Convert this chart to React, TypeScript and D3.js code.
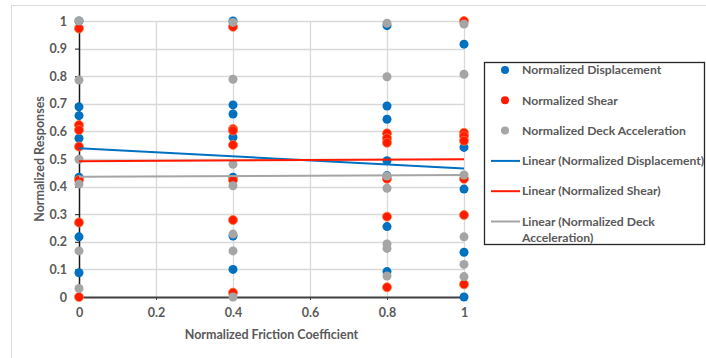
import { useEffect, useRef } from "react";
import * as d3 from "d3";

// friction levels (x) and the responses read at each of them
const frictionLevels = [0, 0.4, 0.8, 1];

const displacement = [
  [1.0, 0.689, 0.657, 0.575, 0.434, 0.218, 0.088],
  [1.0, 0.696, 0.663, 0.579, 0.434, 0.221, 0.1],
  [0.983, 0.692, 0.644, 0.494, 0.44, 0.255, 0.092],
  [0.916, 0.542, 0.391, 0.162, 0.0],
];

const shear = [
  [0.973, 0.623, 0.605, 0.545, 0.424, 0.27, 0.0],
  [0.979, 0.609, 0.603, 0.551, 0.424, 0.279, 0.016],
  [0.593, 0.575, 0.559, 0.428, 0.291, 0.035],
  [1.0, 0.595, 0.583, 0.566, 0.428, 0.297, 0.046],
];

const deckAcceleration = [
  [1.0, 0.786, 0.499, 0.409, 0.167, 0.031],
  [0.995, 0.789, 0.481, 0.403, 0.228, 0.167, 0.0],
  [0.992, 0.798, 0.438, 0.394, 0.192, 0.176, 0.076],
  [0.989, 0.807, 0.442, 0.218, 0.118, 0.074],
];

// linear trend values at x = 0 and x = 1
const trendX = [0, 1];
const trendDisplacement = [0.539, 0.466];
const trendShear = [0.492, 0.499];
const trendDeck = [0.436, 0.442];

const xTicks = [0, 0.2, 0.4, 0.6, 0.8, 1];
const yTicks = [0, 0.1, 0.2, 0.3, 0.4, 0.5, 0.6, 0.7, 0.8, 0.9, 1];

const seriesNames = [
  "Normalized Displacement",
  "Normalized Shear",
  "Normalized Deck Acceleration",
];
const trendNames = [
  ["Linear (Normalized Displacement)"],
  ["Linear (Normalized Shear)"],
  ["Linear (Normalized Deck", "Acceleration)"],
];

const colors = ["#0070C0", "#FF1A00", "#A5A5A5"];

const App = () => {
  const ref = useRef<SVGSVGElement>(null);

  const width = 706;
  const height = 358;
  const plot = { left: 79, right: 464, top: 21, bottom: 297 };
  const font = "Lato, 'Open Sans', sans-serif";
  const textColor = "#595959";
  const fontSize = 12.2;

  useEffect(() => {
    const svg = d3.select(ref.current);
    svg.selectAll("*").remove();

    const x = d3.scaleLinear().domain([0, 1]).range([plot.left, plot.right]);
    const y = d3.scaleLinear().domain([0, 1]).range([plot.bottom, plot.top]);

    svg
      .append("rect")
      .attr("width", width)
      .attr("height", height)
      .attr("fill", "#fff");

    // outer chart frame
    svg
      .append("rect")
      .attr("x", 11.5)
      .attr("y", 5.5)
      .attr("width", 800)
      .attr("height", 400)
      .attr("fill", "none")
      .attr("stroke", "#d9d9d9");

    // grid
    const grid = svg.append("g").attr("stroke", "#d9d9d9").attr("stroke-width", 1.3);
    grid
      .selectAll("line.h")
      .data(yTicks.filter((t) => t > 0))
      .enter()
      .append("line")
      .attr("x1", plot.left)
      .attr("x2", plot.right)
      .attr("y1", (d) => Math.round(y(d)) + 0.5)
      .attr("y2", (d) => Math.round(y(d)) + 0.5);
    grid
      .selectAll("line.v")
      .data(xTicks.filter((t) => t > 0))
      .enter()
      .append("line")
      .attr("x1", (d) => Math.round(x(d)) + 0.5)
      .attr("x2", (d) => Math.round(x(d)) + 0.5)
      .attr("y1", plot.top)
      .attr("y2", plot.bottom);

    // y axis
    const yAxis = svg
      .append("g")
      .attr("transform", `translate(${plot.left},0)`)
      .call(
        d3
          .axisLeft(y)
          .tickValues(yTicks)
          .tickSize(4)
          .tickPadding(8)
          .tickFormat((d) => d3.format("")(+d))
      );
    yAxis.select(".domain").attr("stroke", "#1a1a1a").attr("stroke-width", 1.5);
    yAxis.selectAll(".tick line").attr("stroke", "#1a1a1a");

    // x axis
    const xAxis = svg
      .append("g")
      .attr("transform", `translate(0,${plot.bottom})`)
      .call(
        d3
          .axisBottom(x)
          .tickValues(xTicks)
          .tickSize(3)
          .tickPadding(8)
          .tickFormat((d) => d3.format("")(+d))
      );
    xAxis.select(".domain").attr("stroke", "#404040").attr("stroke-width", 2);
    xAxis.selectAll(".tick line").attr("stroke", "#404040");

    svg
      .selectAll(".tick text")
      .attr("font-family", font)
      .attr("font-size", 12.5)
      .attr("font-weight", 700)
      .attr("fill", textColor);

    // axis titles
    svg
      .append("text")
      .attr("x", (plot.left + plot.right) / 2)
      .attr("y", 339)
      .attr("text-anchor", "middle")
      .attr("font-family", font)
      .attr("font-size", 12.5)
      .attr("font-weight", 700)
      .attr("fill", textColor)
      .text("Normalized Friction Coefficient");

    svg
      .append("text")
      .attr("transform", `translate(44,${(plot.top + plot.bottom) / 2}) rotate(-90)`)
      .attr("text-anchor", "middle")
      .attr("font-family", font)
      .attr("font-size", 12.5)
      .attr("font-weight", 700)
      .attr("fill", textColor)
      .text("Normalized Responses");

    // points
    const allSeries = [displacement, shear, deckAcceleration];
    allSeries.forEach((series, si) => {
      const pts = series.flatMap((vals, i) =>
        vals.map((v) => ({ fx: frictionLevels[i], v }))
      );
      svg
        .append("g")
        .selectAll("circle")
        .data(pts)
        .enter()
        .append("circle")
        .attr("cx", (d) => x(d.fx))
        .attr("cy", (d) => y(d.v))
        .attr("r", 4.5)
        .attr("fill", colors[si])
        .attr("stroke", si === 1 ? "#FF7A3A" : "none")
        .attr("stroke-width", 0.8);
    });

    // trend lines
    const trends = [trendDisplacement, trendShear, trendDeck];
    const line = d3
      .line<number>()
      .x((_, i) => x(trendX[i]))
      .y((d) => y(d));
    trends.forEach((t, i) => {
      svg
        .append("path")
        .attr("d", line(t))
        .attr("fill", "none")
        .attr("stroke", colors[i])
        .attr("stroke-width", 2);
    });

    // legend
    const legend = svg.append("g");
    legend
      .append("rect")
      .attr("x", 484.5)
      .attr("y", 62.5)
      .attr("width", 220)
      .attr("height", 182)
      .attr("fill", "#fff")
      .attr("stroke", "#262626")
      .attr("stroke-width", 1.3);

    const rowY = (i: number) => 70 + i * 30.3;
    seriesNames.forEach((name, i) => {
      legend
        .append("circle")
        .attr("cx", 505)
        .attr("cy", rowY(i))
        .attr("r", 4)
        .attr("fill", colors[i]);
      legend
        .append("text")
        .attr("x", 522)
        .attr("y", rowY(i))
        .attr("dy", "0.35em")
        .attr("font-family", font)
        .attr("font-size", fontSize)
        .attr("font-weight", 700)
        .attr("fill", textColor)
        .text(name);
    });
    trendNames.forEach((lines, j) => {
      const i = j + 3;
      legend
        .append("line")
        .attr("x1", 491)
        .attr("x2", 520)
        .attr("y1", rowY(i))
        .attr("y2", rowY(i))
        .attr("stroke", colors[j])
        .attr("stroke-width", 2);
      lines.forEach((txt, k) => {
        legend
          .append("text")
          .attr("x", 522)
          .attr("y", rowY(i) + k * 16)
          .attr("dy", "0.35em")
          .attr("font-family", font)
          .attr("font-size", fontSize)
          .attr("font-weight", 700)
          .attr("fill", textColor)
          .text(txt);
      });
    });
  }, []);

  return (
    <svg
      ref={ref}
      width={width}
      height={height}
      style={{ position: "absolute", left: 0, top: 0 }}
    ></svg>
  );
};

export default App;
